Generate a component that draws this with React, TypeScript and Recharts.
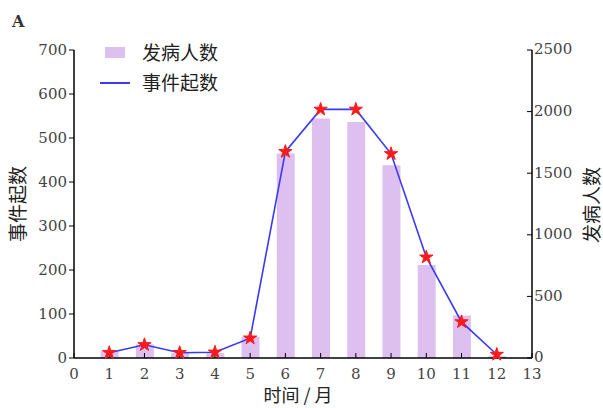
import React from 'react';
import { ComposedChart, Bar, Line, XAxis, YAxis, Symbols } from 'recharts';

const months = [1, 2, 3, 4, 5, 6, 7, 8, 9, 10, 11, 12];
const patients = [60, 110, 40, 40, 170, 1660, 1945, 1915, 1565, 755, 345, 15];
const events = [12, 30, 12, 13, 45, 469, 565, 565, 464, 229, 82, 8];
const xTicks = [0, 1, 2, 3, 4, 5, 6, 7, 8, 9, 10, 11, 12, 13];
const leftTicks = [0, 100, 200, 300, 400, 500, 600, 700];
const rightTicks = [0, 500, 1000, 1500, 2000, 2500];

const data = months.map((m, i) => ({ month: m, patients: patients[i], events: events[i] }));

const tickFont = { fontFamily: 'DejaVu Serif', fontSize: 15, fill: '#444' };
const cjk = 'Noto Sans CJK SC';

const StarDot = (props: any) => {
  const { cx, cy, index } = props;
  if (cx == null || cy == null) return null;
  return <Symbols key={`s${index}`} cx={cx} cy={cy} type="star" size={55} fill="#ff1a1a" stroke="#ff1a1a" />;
};

export default function App() {
  return (
    <div style={{ position: 'absolute', left: 0, top: 0, width: 603, height: 408, background: '#fff' }}>
      <ComposedChart
        width={603}
        height={408}
        data={data}
        margin={{ top: 50, right: 30, bottom: 20, left: 30 }}
      >
        <XAxis
          dataKey="month"
          type="number"
          domain={[0, 13]}
          ticks={xTicks}
          interval={0}
          height={30}
          tick={tickFont}
          tickSize={-5}
          tickMargin={15}
          stroke="#000"
          axisLine={{ stroke: '#000', strokeWidth: 1.5 }}
          tickLine={{ stroke: '#000' }}
        />
        <YAxis
          yAxisId="left"
          domain={[0, 700]}
          ticks={leftTicks}
          width={44}
          tick={tickFont}
          tickSize={5}
          tickMargin={2}
          axisLine={{ stroke: '#000', strokeWidth: 1.5 }}
          tickLine={{ stroke: '#000' }}
        />
        <YAxis
          yAxisId="right"
          orientation="right"
          domain={[0, 2500]}
          ticks={rightTicks}
          width={41}
          tick={{ ...tickFont, dy: -1 }}
          tickSize={-5}
          tickMargin={7}
          axisLine={{ stroke: '#000', strokeWidth: 1.5 }}
          tickLine={{ stroke: '#000' }}
        />
        <Bar
          yAxisId="right"
          dataKey="patients"
          fill="#ddc0f0"
          barSize={18}
          isAnimationActive={false}
        />
        <Line
          yAxisId="left"
          dataKey="events"
          type="linear"
          stroke="#3a3af2"
          strokeWidth={1.6}
          dot={StarDot}
          activeDot={false}
          isAnimationActive={false}
        />
      </ComposedChart>
      <svg width={603} height={408} style={{ position: 'absolute', left: 0, top: 0, pointerEvents: 'none' }}>
        <text x={12} y={27} fontFamily="DejaVu Serif" fontWeight="bold" fontSize={16} fill="#333">A</text>
        <rect x={105} y={47} width={20} height={11} fill="#ddc0f0" />
        <text x={142} y={60} fontFamily={cjk} fontSize={19} fill="#222">发病人数</text>
        <line x1={100} y1={83} x2={130} y2={83} stroke="#3a3af2" strokeWidth={2} />
        <text x={142} y={90} fontFamily={cjk} fontSize={19} fill="#222">事件起数</text>
        <text
          x={0}
          y={0}
          transform="translate(25,204) rotate(-90)"
          textAnchor="middle"
          fontFamily={cjk}
          fontSize={19}
          fill="#222"
        >事件起数</text>
        <text
          x={0}
          y={0}
          transform="translate(599,205) rotate(-90)"
          textAnchor="middle"
          fontFamily={cjk}
          fontSize={19}
          fill="#222"
        >发病人数</text>
        <text x={298} y={402} textAnchor="middle" fontFamily={cjk} fontSize={18} fill="#222">时间 / 月</text>
      </svg>
    </div>
  );
}
